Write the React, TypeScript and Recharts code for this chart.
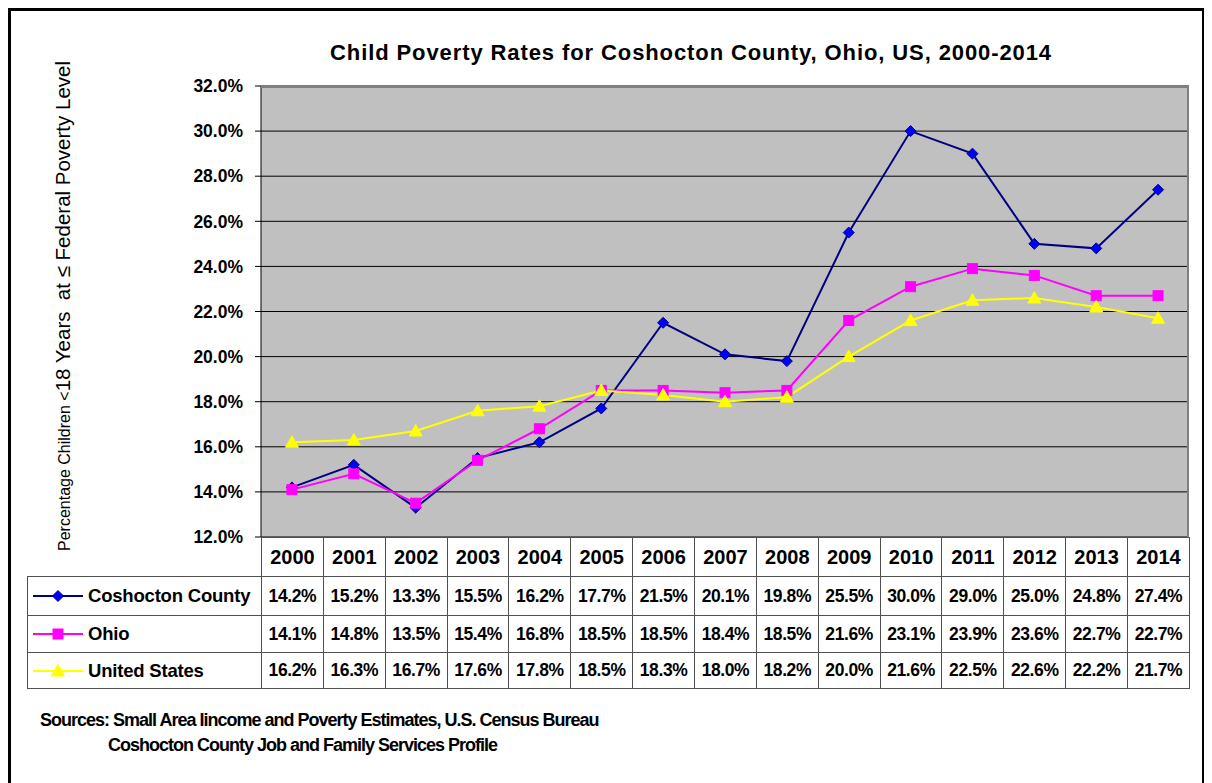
import React from 'react';
import { LineChart, Line, XAxis, YAxis, CartesianGrid } from 'recharts';

const years = ['2000', '2001', '2002', '2003', '2004', '2005', '2006', '2007', '2008', '2009', '2010', '2011', '2012', '2013', '2014'];
const coshocton = [14.2, 15.2, 13.3, 15.5, 16.2, 17.7, 21.5, 20.1, 19.8, 25.5, 30.0, 29.0, 25.0, 24.8, 27.4];
const ohio = [14.1, 14.8, 13.5, 15.4, 16.8, 18.5, 18.5, 18.4, 18.5, 21.6, 23.1, 23.9, 23.6, 22.7, 22.7];
const unitedStates = [16.2, 16.3, 16.7, 17.6, 17.8, 18.5, 18.3, 18.0, 18.2, 20.0, 21.6, 22.5, 22.6, 22.2, 21.7];
const yTicks = [12, 14, 16, 18, 20, 22, 24, 26, 28, 30, 32];

const seriesInfo = [
  { key: 'coshocton', name: 'Coshocton County', values: coshocton, line: '#000080', fill: '#0000FF', shape: 'diamond' },
  { key: 'ohio', name: 'Ohio', values: ohio, line: '#FF00FF', fill: '#FF00FF', shape: 'square' },
  { key: 'us', name: 'United States', values: unitedStates, line: '#FFFF00', fill: '#FFFF00', shape: 'triangle' },
];

const data = years.map((year, i) => ({
  year,
  coshocton: coshocton[i],
  ohio: ohio[i],
  us: unitedStates[i],
}));

const FONT = 'Arial, "Liberation Sans", sans-serif';

const Marker = ({ shape, cx, cy, line, fill }: any) => {
  if (shape === 'diamond') {
    return <polygon points={`${cx},${cy - 5.5} ${cx + 5.5},${cy} ${cx},${cy + 5.5} ${cx - 5.5},${cy}`} fill={fill} stroke={line} strokeWidth={1} />;
  }
  if (shape === 'square') {
    return <rect x={cx - 5} y={cy - 5} width={10} height={10} fill={fill} stroke={line} strokeWidth={1} />;
  }
  return <polygon points={`${cx},${cy - 6.5} ${cx + 6.5},${cy + 5} ${cx - 6.5},${cy + 5}`} fill={fill} stroke={line} strokeWidth={1} />;
};

const makeDot = (s: any) => (props: any) => {
  const { cx, cy, index } = props;
  return <Marker key={`${s.key}-${index}`} shape={s.shape} cx={cx} cy={cy} line={s.line} fill={s.fill} />;
};

const cellBorder = '1px solid #505050';
const colW = 928 / 15;

const App = () => {
  return (
    <div
      style={{
        position: 'relative',
        width: 1191,
        height: 790,
        border: '3px solid #000',
        background: '#fff',
        fontFamily: FONT,
      }}
    >
      <div
        style={{
          position: 'absolute',
          left: 180,
          width: 1000,
          top: 29,
          textAlign: 'center',
          fontSize: 22,
          letterSpacing: 0.9,
          fontWeight: 'bold',
          color: '#000',
        }}
      >
        Child Poverty Rates for Coshocton County, Ohio, US, 2000-2014
      </div>

      <div
        style={{
          position: 'absolute',
          left: 52,
          top: 295,
          transform: 'translate(-50%, -50%) rotate(-90deg)',
          whiteSpace: 'nowrap',
          color: '#000',
        }}
      >
        <span style={{ fontSize: 16 }}>Percentage Children &lt;</span>
        <span style={{ fontSize: 20.5 }}>18 Years &nbsp;at ≤ Federal Poverty Level</span>
      </div>

      <div style={{ position: 'absolute', left: 0, top: 0 }}>
        <LineChart
          width={1190}
          height={540}
          data={data}
          margin={{ top: 75, right: 12, left: 170, bottom: 14 }}
        >
          <CartesianGrid horizontal vertical={false} fill="#C0C0C0" stroke="#000" strokeOpacity={1} />
          <XAxis dataKey="year" hide padding={{ left: colW / 2, right: colW / 2 }} />
          <YAxis
            width={80}
            domain={[12, 32]}
            ticks={yTicks}
            interval={0}
            tickFormatter={(v: number) => `${v.toFixed(1)}%`}
            tick={{ fontSize: 17.5, fontWeight: 'bold', fill: '#000', fontFamily: FONT }}
            tickSize={6}
            tickMargin={12}
            axisLine={{ stroke: '#000' }}
            tickLine={{ stroke: '#000' }}
          />
          {seriesInfo.map((s) => (
            <Line
              key={s.key}
              type="linear"
              dataKey={s.key}
              name={s.name}
              stroke={s.line}
              strokeWidth={2}
              dot={makeDot(s)}
              activeDot={false}
              isAnimationActive={false}
            />
          ))}
        </LineChart>
      </div>

      {/* plot area frame (top and right edges are grey in the original) */}
      <div
        style={{
          position: 'absolute',
          left: 250,
          top: 75,
          width: 928,
          height: 451,
          borderTop: '2px solid #808080',
          borderRight: '2px solid #808080',
          boxSizing: 'border-box',
          pointerEvents: 'none',
        }}
      />

      <table
        style={{
          position: 'absolute',
          left: 16,
          top: 526,
          borderCollapse: 'collapse',
          tableLayout: 'fixed',
          width: 234 + 928,
          fontWeight: 'bold',
          color: '#000',
        }}
      >
        <colgroup>
          <col style={{ width: 234 }} />
          {years.map((y) => (
            <col key={y} style={{ width: colW }} />
          ))}
        </colgroup>
        <tbody>
          <tr style={{ height: 39 }}>
            <td style={{ border: 'none', padding: 0 }} />
            {years.map((y) => (
              <td key={y} style={{ border: cellBorder, textAlign: 'center', fontSize: 20, padding: 0 }}>
                {y}
              </td>
            ))}
          </tr>
          {seriesInfo.map((s, r) => (
            <tr key={s.key} style={{ height: r === 0 ? 39 : r === 1 ? 37 : 36 }}>
              <td style={{ border: cellBorder, padding: 0 }}>
                <div style={{ display: 'flex', alignItems: 'center' }}>
                  <svg width={56} height={20} style={{ marginLeft: 4 }}>
                    <line x1={1} y1={10} x2={51} y2={10} stroke={s.line} strokeWidth={2} />
                    <Marker shape={s.shape} cx={26} cy={10} line={s.line} fill={s.fill} />
                  </svg>
                  <span style={{ fontSize: 18.5, letterSpacing: -0.2 }}>{s.name}</span>
                </div>
              </td>
              {s.values.map((v, i) => (
                <td
                  key={i}
                  style={{ border: cellBorder, textAlign: 'center', fontSize: 17.5, letterSpacing: -0.4, padding: 0 }}
                >
                  {v.toFixed(1)}%
                </td>
              ))}
            </tr>
          ))}
        </tbody>
      </table>

      <div
        style={{
          position: 'absolute',
          left: 29,
          top: 697,
          fontSize: 18,
          fontWeight: 'bold',
          letterSpacing: -1,
          lineHeight: '25px',
          color: '#000',
        }}
      >
        <div>Sources: Small Area Iincome and Poverty Estimates, U.S. Census Bureau</div>
        <div style={{ paddingLeft: 68 }}>Coshocton County Job and Family Services Profile</div>
      </div>
    </div>
  );
};

export default App;
